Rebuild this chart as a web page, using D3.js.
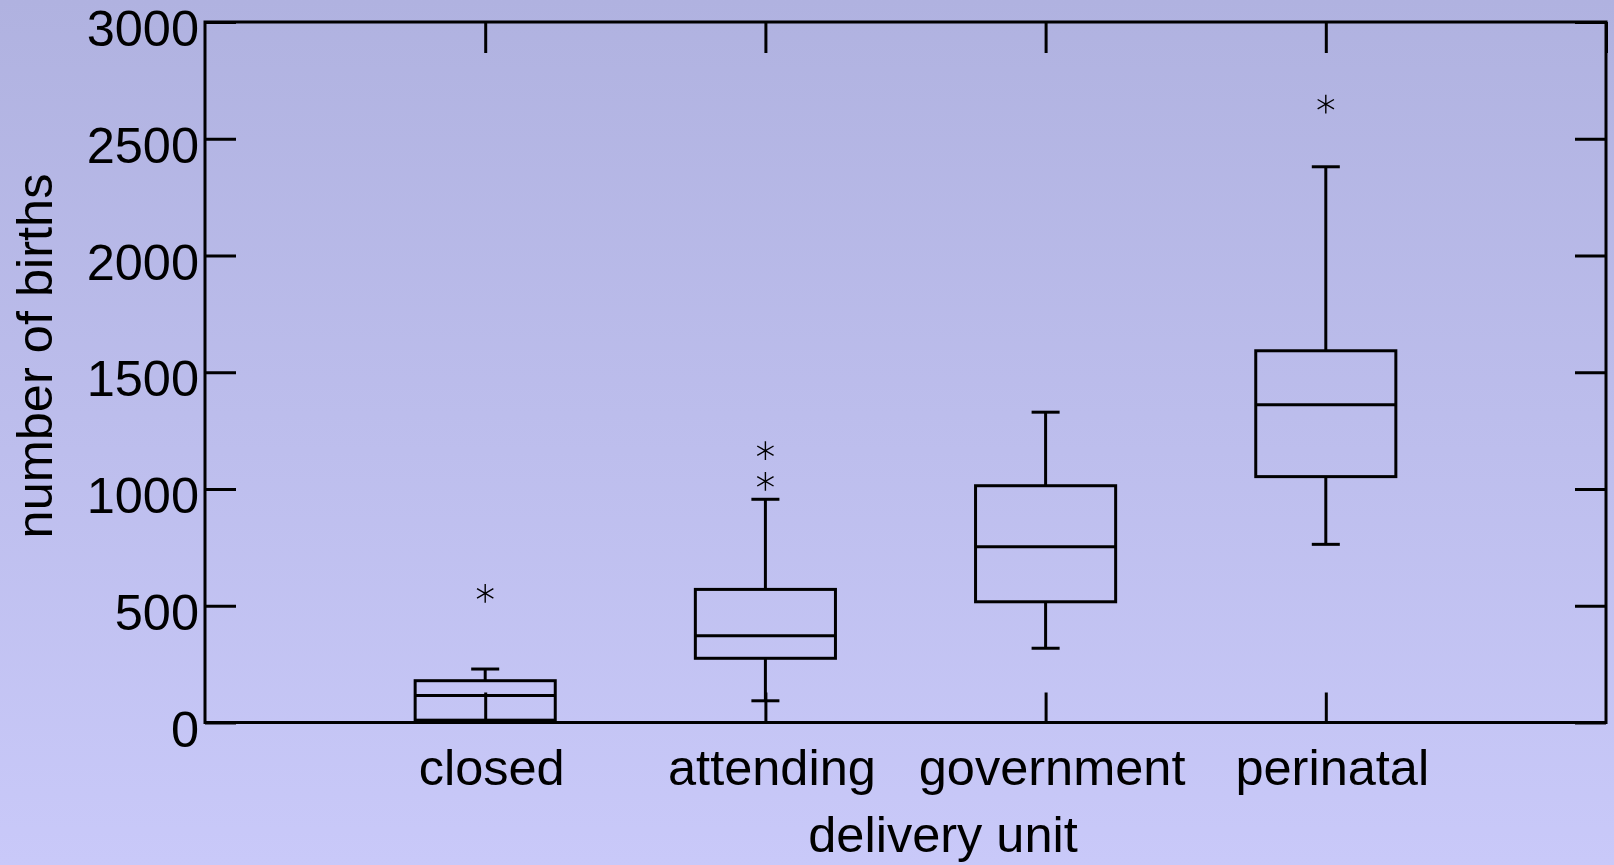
<!DOCTYPE html>
<html>
<head>
<meta charset="utf-8">
<script src="https://cdn.jsdelivr.net/npm/d3@7"></script>
<style>
  html, body { margin: 0; padding: 0; }
  body { width: 1614px; height: 865px; overflow: hidden; }
  svg { display: block; font-family: "Liberation Sans", Arial, Helvetica, sans-serif; }
</style>
</head>
<body>
<svg id="chart" width="1614" height="865"></svg>
<script>
// ---- data ----
const categories = ["closed", "attending", "government", "perinatal"];
const whiskerLow  = [2, 93, 318, 763];
const q1          = [10, 275, 517, 1053];
const medians     = [116, 372, 753, 1361];
const q3          = [179, 570, 1014, 1592];
const whiskerHigh = [229, 956, 1329, 2380];
const outliers    = [[553], [1033, 1164], [], [2648]];
const yTicks = [0, 500, 1000, 1500, 2000, 2500, 3000];
const xLabel = "delivery unit";
const yLabel = "number of births";

(function () {
// ---- layout ----
const W = 1614, H = 865;
const pLeft = 205, pRight = 1606, pTop = 22, pBottom = 722.5;
const fs = 50.5;
const svg = d3.select("#chart");

const defs = svg.append("defs");
const grad = defs.append("linearGradient").attr("id", "bg").attr("x1", 0).attr("y1", 0).attr("x2", 0).attr("y2", 1);
grad.append("stop").attr("offset", "0%").attr("stop-color", "#b0b2e0");
grad.append("stop").attr("offset", "100%").attr("stop-color", "#c9c9f9");
svg.append("rect").attr("width", W).attr("height", H).attr("fill", "url(#bg)");

const x = d3.scaleLinear().domain([0, categories.length + 1]).range([pLeft, pRight]);
const y = d3.scaleLinear().domain([0, 3000]).range([pBottom, pTop]);
const catPos = categories.map((c, i) => i + 1);

const boxW = 0.5, capW = 0.1;
const sw = 3;

// axes
const yLeft = svg.append("g").attr("transform", `translate(${pLeft},0)`)
  .call(d3.axisLeft(y).tickValues(yTicks).tickSizeInner(-31).tickSizeOuter(0).tickPadding(6).tickFormat(d3.format("d")));
yLeft.select(".domain").remove();
yLeft.selectAll("line").attr("stroke", "#000").attr("stroke-width", sw);
yLeft.selectAll("text").attr("font-size", fs).attr("fill", "#000").attr("dy", null).attr("y", 23.5)
  .attr("font-family", "Liberation Sans, Arial, sans-serif");

const yRight = svg.append("g").attr("transform", `translate(${pRight},0)`)
  .call(d3.axisRight(y).tickValues(yTicks).tickSizeInner(-31).tickSizeOuter(0).tickFormat(""));
yRight.select(".domain").remove();
yRight.selectAll("line").attr("stroke", "#000").attr("stroke-width", sw);

const xBottom = svg.append("g").attr("transform", `translate(0,${pBottom})`)
  .call(d3.axisBottom(x).tickValues(catPos).tickSizeInner(-30).tickSizeOuter(0)
    .tickFormat((d, i) => categories[i]));
xBottom.select(".domain").remove();
xBottom.selectAll("line").attr("stroke", "#000").attr("stroke-width", sw);
xBottom.selectAll("text").attr("font-size", fs).attr("fill", "#000").attr("dy", null).attr("y", 62.5).attr("dx", 6)
  .attr("font-family", "Liberation Sans, Arial, sans-serif");

const xTop = svg.append("g").attr("transform", `translate(0,${pTop})`)
  .call(d3.axisTop(x).tickValues(catPos.concat([categories.length + 1])).tickSizeInner(-31).tickSizeOuter(0).tickFormat(""));
xTop.select(".domain").remove();
xTop.selectAll("line").attr("stroke", "#000").attr("stroke-width", sw);

// frame
svg.append("rect").attr("x", pLeft).attr("y", pTop).attr("width", pRight - pLeft).attr("height", pBottom - pTop)
  .attr("fill", "none").attr("stroke", "#000").attr("stroke-width", sw);

// boxes
const g = svg.append("g").attr("stroke", "#000").attr("stroke-width", sw).attr("fill", "none");
const star = d3.symbol().type(d3.symbolAsterisk).size(250);
categories.forEach((c, i) => {
  const cx = x(catPos[i]);
  const bx0 = x(catPos[i] - boxW / 2), bx1 = x(catPos[i] + boxW / 2);
  const cx0 = x(catPos[i] - capW / 2), cx1 = x(catPos[i] + capW / 2);
  g.append("line").attr("x1", cx).attr("x2", cx).attr("y1", y(q3[i])).attr("y2", y(whiskerHigh[i]));
  g.append("line").attr("x1", cx).attr("x2", cx).attr("y1", y(q1[i])).attr("y2", y(whiskerLow[i]));
  g.append("line").attr("x1", cx0).attr("x2", cx1).attr("y1", y(whiskerHigh[i])).attr("y2", y(whiskerHigh[i]));
  g.append("line").attr("x1", cx0).attr("x2", cx1).attr("y1", y(whiskerLow[i])).attr("y2", y(whiskerLow[i]));
  g.append("rect").attr("x", bx0).attr("y", y(q3[i])).attr("width", bx1 - bx0).attr("height", y(q1[i]) - y(q3[i]));
  g.append("line").attr("x1", bx0).attr("x2", bx1).attr("y1", y(medians[i])).attr("y2", y(medians[i]));
  outliers[i].forEach(v => {
    svg.append("path").attr("d", star()).attr("transform", `translate(${cx},${y(v)})`)
      .attr("fill", "none").attr("stroke", "#000").attr("stroke-width", 1.4);
  });
});

// axis titles
svg.append("text").attr("x", 943).attr("y", 852).attr("text-anchor", "middle")
  .attr("font-size", fs).attr("fill", "#000").text(xLabel);
svg.append("text").attr("transform", "translate(52,356) rotate(-90)").attr("text-anchor", "middle")
  .attr("font-size", fs).attr("fill", "#000").text(yLabel);
})();
</script>
</body>
</html>
